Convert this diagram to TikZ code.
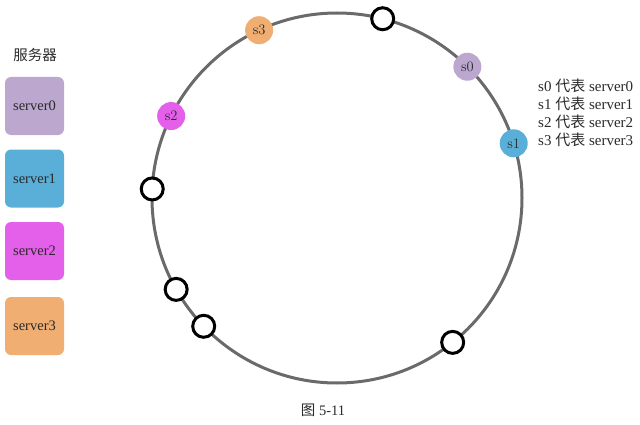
\documentclass[tikz,border=0pt]{standalone}
\usepackage{fontspec}
\newfontfamily\tnr{Liberation Serif}
\newfontfamily\cjk{Noto Sans CJK SC}
\definecolor{c0}{HTML}{BCA7CF}
\definecolor{c1}{HTML}{5AAFD9}
\definecolor{c2}{HTML}{E45FEA}
\definecolor{c3}{HTML}{F0AE72}
\definecolor{ringc}{HTML}{6A6A6A}
\definecolor{txt}{HTML}{2A2A2A}
\tikzset{
  legbox/.style={draw=none, rounded corners=6pt, minimum width=59pt, minimum height=58pt, inner sep=0pt, font=\tnr\fontsize{14.5}{14.5}\selectfont, text=txt},
  srv/.style={circle, draw=none, minimum size=28pt, inner sep=0pt, font=\fontsize{14.5}{14.5}\selectfont, text=txt},
  vnode/.style={circle, draw=black, fill=white, line width=3pt, minimum size=22pt, inner sep=0pt},
  ringst/.style={circle, draw=ringc, line width=3pt, minimum size=370pt, inner sep=0pt},
  note/.style={anchor=west, inner sep=0pt, font=\tnr\fontsize{15}{15}\selectfont, text=txt}
}
\begin{document}
\begin{tikzpicture}[x=1pt,y=1pt]
\useasboundingbox (0,0) rectangle (640,424);
% legend
\node[inner sep=0pt, font=\cjk\fontsize{14.5}{14.5}\selectfont, text=txt] (title) at (35,369) {服务器};
\node[legbox, fill=c0] (b0) at (34.5,318) {server0};
\node[legbox, fill=c1] (b1) at (34.5,245.5) {server1};
\node[legbox, fill=c2] (b2) at (34.5,173) {server2};
\node[legbox, fill=c3] (b3) at (34.5,98) {server3};
% ring
\begin{scope}[shift={(337,226)}]
\node[ringst] (ring) at (0,0) {};
\node[srv, fill=c0] (s0) at (45.2:185pt) {s0};
\node[srv, fill=c1] (s1) at (17.2:185pt) {s1};
\node[srv, fill=c2] (s2) at (153.7:185pt) {s2};
\node[srv, fill=c3] (s3) at (114.9:185pt) {s3};
\node[vnode] (v1) at (75.7:185pt) {};
\node[vnode] (v2) at (177.2:185pt) {};
\node[vnode] (v3) at (209.6:185pt) {};
\node[vnode] (v4) at (223.9:185pt) {};
\node[vnode] (v5) at (308.7:185pt) {};
\end{scope}
% notes
\node[note] (n0) at (538,338) {s0 {\cjk 代表} server0};
\node[note] (n1) at (538,320) {s1 {\cjk 代表} server1};
\node[note] (n2) at (538,302) {s2 {\cjk 代表} server2};
\node[note] (n3) at (538,284) {s3 {\cjk 代表} server3};
% caption
\node[inner sep=0pt, font=\tnr\fontsize{14.5}{14.5}\selectfont, text=txt] (cap) at (323,14) {{\cjk 图} 5-11};
\end{tikzpicture}
\end{document}
